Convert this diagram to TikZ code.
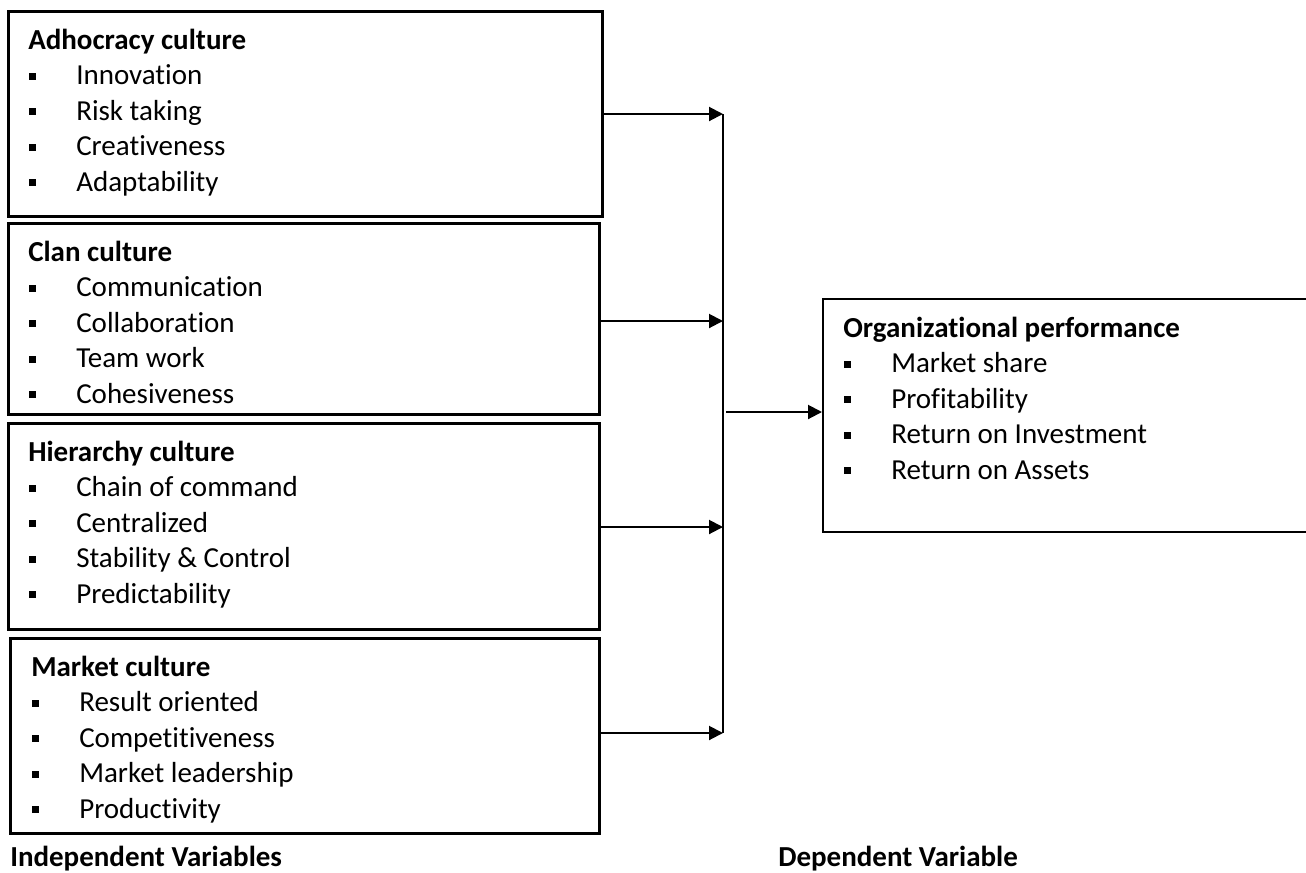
\documentclass[tikz,border=0pt]{standalone}
\usepackage{fontspec}
\setmainfont[Ligatures=NoCommon]{Carlito}
\usetikzlibrary{arrows.meta}
\newcommand{\fsz}{\fontsize{21.75pt}{26.6pt}\selectfont}
\newcommand{\bul}{\makebox[35.25pt][l]{\rule[3.6pt]{5.4pt}{5.4pt}}}
\begin{document}
\begin{tikzpicture}[x=0.75pt,y=-0.75pt,
  box/.style={draw, line width=1.9pt, anchor=north west, inner sep=0pt},
  outbox/.style={draw, line width=1.5pt, anchor=north west, inner sep=0pt},
  ttl/.style={anchor=base west, inner sep=0pt, font=\fsz\bfseries},
  itm/.style={anchor=base west, inner sep=0pt, font=\fsz},
  arr/.style={line width=1.5pt, -{Triangle[length=10.5pt,width=10.5pt]}},
  bus/.style={line width=1.2pt}]
\useasboundingbox (0,0) rectangle (1306,872);
% boxes
\node[box, minimum width={594*0.75pt}, minimum height={205*0.75pt}] (b1) at (7,10) {};
\node[box, minimum width={591*0.75pt}, minimum height={191*0.75pt}] (b2) at (7,222) {};
\node[box, minimum width={591*0.75pt}, minimum height={206*0.75pt}] (b3) at (7,422) {};
\node[box, minimum width={589*0.75pt}, minimum height={195*0.75pt}] (b4) at (9,637) {};
\node[outbox, minimum width={490*0.75pt}, minimum height={233*0.75pt}] (b5) at (822,298) {};
% box 1
\node[ttl] (t1) at (28,49) {Adhocracy culture};
\foreach \t [count=\i] in {Innovation, Risk taking, Creativeness, Adaptability}
  \node[itm] (i1\i) at (29,{49+35.5*\i}) {\bul\t};
% box 2
\node[ttl] (t2) at (28,261) {Clan culture};
\foreach \t [count=\i] in {Communication, Collaboration, Team work, Cohesiveness}
  \node[itm] (i2\i) at (29,{261+35.5*\i}) {\bul\t};
% box 3
\node[ttl] (t3) at (28,461) {Hierarchy culture};
\foreach \t [count=\i] in {Chain of command, Centralized, Stability \& Control, Predictability}
  \node[itm] (i3\i) at (29,{461+35.5*\i}) {\bul\t};
% box 4
\node[ttl] (t4) at (31,676) {Market culture};
\foreach \t [count=\i] in {Result oriented, Competitiveness, Market leadership, Productivity}
  \node[itm] (i4\i) at (32,{676+35.5*\i}) {\bul\t};
% box 5
\node[ttl] (t5) at (843,337) {Organizational performance};
\foreach \t [count=\i] in {Market share, Profitability, Return on Investment, Return on Assets}
  \node[itm] (i5\i) at (844,{337+35.5*\i}) {\bul\t};
% labels
\node[ttl] (lin) at (10,866) {Independent Variables};
\node[ttl] (ldep) at (778,866) {Dependent Variable};
% connectors
\coordinate (j1) at (723,114);
\coordinate (j2) at (723,321);
\coordinate (j3) at (723,527);
\coordinate (j4) at (723,733);
\coordinate (jm) at (726,412);
\draw[bus] (j1) -- (j4);
\draw[arr] (b1.east |- j1) -- (j1);
\draw[arr] (b2.east |- j2) -- (j2);
\draw[arr] (b3.east |- j3) -- (j3);
\draw[arr] (b4.east |- j4) -- (j4);
\draw[arr] (jm) -- (b5.west |- jm);
\end{tikzpicture}
\end{document}
